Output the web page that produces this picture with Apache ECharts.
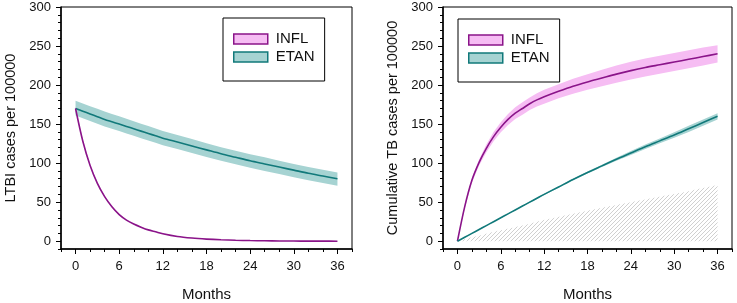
<!DOCTYPE html>
<html>
<head>
<meta charset="utf-8">
<script src="https://cdn.jsdelivr.net/npm/echarts@6/dist/echarts.min.js"></script>
<style>
html,body{margin:0;padding:0;background:#fff;}
#chart{width:737px;height:303px;}
</style>
</head>
<body>
<div id="chart"></div>
<script>
// ---- data ----
const months = [0,1,2,3,4,5,6,7,8,9,10,11,12,14,16,18,20,22,24,26,28,30,32,34,36];
const xTicks = [0,6,12,18,24,30,36];
const yTicks = [0,50,100,150,200,250,300];

// Left panel: LTBI cases per 100000
const ltbiInfl   = [170,128,97,74,57,44,34,27,22,18,14.5,12,9.5,6,4,2.7,1.8,1.2,0.8,0.5,0.3,0.2,0.1,0.05,0];
const ltbiInflLo = [168,126,95.5,72.5,56,43,33.2,26.4,21.5,17.6,14.2,11.7,9.3,5.8,3.9,2.6,1.7,1.1,0.7,0.4,0.2,0.1,0,0,0];
const ltbiInflHi = [172,130,98.5,75.5,58,45,34.8,27.6,22.5,18.4,14.8,12.3,9.7,6.2,4.1,2.8,1.9,1.3,0.9,0.6,0.4,0.3,0.2,0.1,0.1];
const ltbiEtan   = [170,166.5,163,159.5,156,153,150,147,144,141,138,135,132,127,122,117,112,107.5,103,99,95,91,87,83.5,80];
const ltbiEtanLo = [161,157.5,154,150.5,147,144,141,138,135,132,129,126,123,118,113,108,103,98.5,94,90,86,82,78,74.5,71];
const ltbiEtanHi = [180,176.5,173,169.5,166,163,160,157,153.5,150.5,147.5,144.5,141,136,131,125.5,120.5,116,111.5,107.5,103,99,95,91.5,88];

// Right panel: cumulative TB cases per 100000
const tbInfl   = [0,44,78,101,119,134,146,156,164,170,176,181,185,192,198.5,204,209,214,218.5,222.5,226,229.5,233,236.5,240];
const tbInflLo = [0,42,75,97,114,128,139.5,149,156.5,162,168,172.5,176,183,189,194,198.5,203,207,211,214.5,218,221.5,225,229];
const tbInflHi = [0,46,81,105,124,140,152.5,163,171.5,178,184,189.5,194,201,208,214,219.5,225,230,234,237.5,241,244.5,248,251];
const tbEtan   = [0,5,10,15,20,25,30,35,40,45,50,55,60,69.5,79,88,96.5,105,113,121,128.5,136,144,152,160];
const tbEtanLo = [0,4.5,9.5,14.5,19.5,24.5,29.5,34.5,39.5,44.5,49.2,54.2,59.2,68.5,78,86.8,95,103,110.5,118,125.5,132.5,140,148,156];
const tbEtanHi = [0,5.5,10.5,15.5,20.5,25.5,30.5,35.5,40.5,45.5,50.8,55.8,60.8,70.5,80,89.2,98,107,115.5,124,131.5,139.5,148,156,164];
const tbHatch  = [0,2.5,5,7,9.5,12,14,16,18,20,22.5,25,27,31,35,39,43,46.5,50,53.5,57,60.5,64,68,72];

// ---- styles ----
const INFL_LINE = '#8a1489', INFL_BAND = '#f6bdf3';
const ETAN_LINE = '#11797a', ETAN_BAND = '#a6d3d2';
const FONT = 'Liberation Sans, Arial, sans-serif';

function pairs(vals){ return months.map((m,i)=>[m, vals[i]]); }

// hatch pattern
const pat = document.createElement('canvas');
pat.width = 4; pat.height = 4;
(function(){
  const c = pat.getContext('2d');
  c.strokeStyle = '#d0d0d0'; c.lineWidth = 1;
  c.beginPath();
  c.moveTo(0,4); c.lineTo(4,0);
  c.moveTo(-1,1); c.lineTo(1,-1);
  c.moveTo(3,5); c.lineTo(5,3);
  c.stroke();
})();

const grids = [
  {left:61, top:7, width:291, height:242, show:true, borderColor:'#000', borderWidth:1, containLabel:false, outerBoundsMode:'none'},
  {left:443, top:7, width:289, height:242, show:true, borderColor:'#000', borderWidth:1, containLabel:false, outerBoundsMode:'none'}
];

function xAxes(g, name){
  return [
    {gridIndex:g, type:'value', min:-2, max:38, interval:2, position:'bottom',
     name:name, nameLocation:'middle', nameGap:38,
     nameTextStyle:{fontFamily:FONT, fontSize:15, color:'#111'},
     axisLine:{show:true, onZero:false, lineStyle:{color:'#000', width:1.5}},
     axisTick:{show:true, inside:false, length:5, customValues:xTicks, lineStyle:{color:'#000', width:1}},
     axisLabel:{show:true, margin:11, customValues:xTicks, fontFamily:FONT, fontSize:13, color:'#111'},
     splitLine:{show:false}},
    {gridIndex:g, type:'value', min:-2, max:38, interval:2, position:'bottom',
     axisLine:{show:false, onZero:false},
     axisTick:{show:true, inside:false, length:3, lineStyle:{color:'#000', width:1}},
     axisLabel:{show:false}, splitLine:{show:false}}
  ];
}
function yAxes(g, name){
  return [
    {gridIndex:g, type:'value', min:-10, max:300, interval:10, position:'left',
     name:name, nameLocation:'middle', nameGap:43,
     nameTextStyle:{fontFamily:FONT, fontSize:14.5, color:'#111'},
     axisLine:{show:true, onZero:false, lineStyle:{color:'#000', width:1.5}},
     axisTick:{show:true, inside:false, length:5, customValues:yTicks, lineStyle:{color:'#000', width:1}},
     axisLabel:{show:true, margin:10, customValues:yTicks, fontFamily:FONT, fontSize:13, color:'#111'},
     splitLine:{show:false}},
    {gridIndex:g, type:'value', min:-10, max:300, interval:10, position:'left',
     axisLine:{show:false, onZero:false},
     axisTick:{show:true, inside:false, length:3, lineStyle:{color:'#000', width:1}},
     axisLabel:{show:false}, splitLine:{show:false}}
  ];
}

function band(xi, yi, lo, hi, color){
  return {
    type:'custom', xAxisIndex:xi, yAxisIndex:yi, silent:true, z:2,
    data: months.map((m,i)=>[m, lo[i], hi[i]]),
    encode:{x:0, y:[1,2]},
    renderItem:function(params, api){
      if (params.dataIndex !== 0) return {type:'group', children:[]};
      const pts = [];
      for (let i = 0; i < months.length; i++) pts.push(api.coord([months[i], hi[i]]));
      for (let i = months.length - 1; i >= 0; i--) pts.push(api.coord([months[i], lo[i]]));
      return {type:'polygon', shape:{points:pts}, style:{fill:color, stroke:null}};
    }
  };
}
function line(name, xi, yi, vals, color){
  return {name:name, type:'line', xAxisIndex:xi, yAxisIndex:yi, data:pairs(vals),
    symbol:'none', smooth:0.3, lineStyle:{color:color, width:1.6}, itemStyle:{color:color}, z:4};
}

function legendAt(left, top){
  return {
    left:left, top:top, orient:'vertical', icon:'rect',
    itemWidth:34, itemHeight:10, itemGap:2,
    padding:[13,10,16,10], borderColor:'#000', borderWidth:1, backgroundColor:'#fff',
    textStyle:{fontFamily:FONT, fontSize:15, color:'#111', lineHeight:16, padding:[0,0,0,3]},
    selectedMode:false,
    data:[
      {name:'INFL', itemStyle:{color:INFL_BAND, borderColor:INFL_LINE, borderWidth:1.5}},
      {name:'ETAN', itemStyle:{color:ETAN_BAND, borderColor:ETAN_LINE, borderWidth:1.5}}
    ]
  };
}

const option = {
  animation:false,
  backgroundColor:'#fff',
  grid:grids,
  xAxis:[...xAxes(0,'Months'), ...xAxes(1,'Months')],
  yAxis:[...yAxes(0,'LTBI cases per 100000'), ...yAxes(1,'Cumulative TB cases per 100000')],
  legend:[legendAt(223,18), legendAt(458,19)],
  series:[
    // left panel
    band(0,0,ltbiEtanLo,ltbiEtanHi,ETAN_BAND),
    band(0,0,ltbiInflLo,ltbiInflHi,INFL_BAND),
    line('ETAN',0,0,ltbiEtan,ETAN_LINE),
    line('INFL',0,0,ltbiInfl,INFL_LINE),
    // right panel
    {name:'hatch', type:'line', xAxisIndex:2, yAxisIndex:2, data:pairs(tbHatch), symbol:'none', smooth:0.3,
     lineStyle:{width:0, opacity:0}, areaStyle:{color:{image:pat, repeat:'repeat'}, origin:0, opacity:1}, silent:true, z:1},
    band(2,2,tbInflLo,tbInflHi,INFL_BAND),
    band(2,2,tbEtanLo,tbEtanHi,ETAN_BAND),
    line('INFL',2,2,tbInfl,INFL_LINE),
    line('ETAN',2,2,tbEtan,ETAN_LINE)
  ]
};

const chart = echarts.init(document.getElementById('chart'), null, {renderer:'canvas'});
chart.setOption(option);
</script>
</body>
</html>
